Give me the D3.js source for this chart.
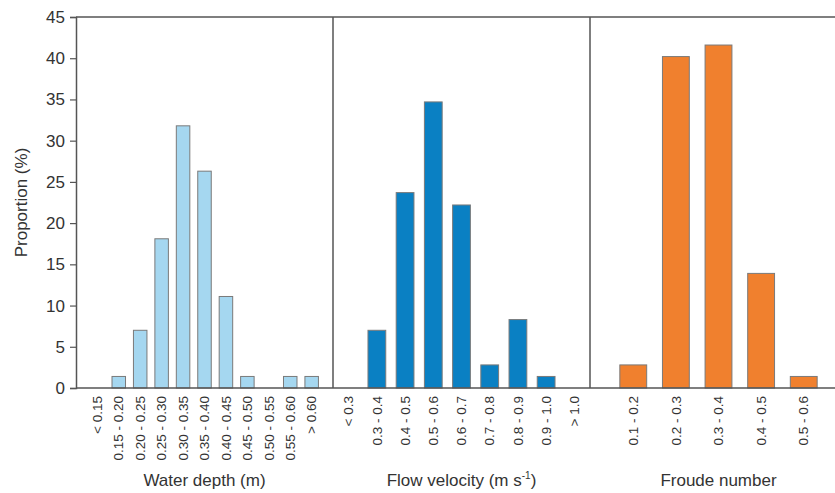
<!DOCTYPE html>
<html>
<head>
<meta charset="utf-8">
<title>Proportion histograms</title>
<script src="https://d3js.org/d3.v7.min.js"></script>
<style>
  body { margin: 0; background: #fff; }
  svg { display: block; font-family: "Liberation Sans", Arial, sans-serif; }
  .bar { stroke: #7a7a7a; stroke-width: 1; }
  .frame { stroke: #555; stroke-width: 1.5; fill: none; }
  .tick text { fill: #333; }
</style>
</head>
<body>
<svg width="835" height="493"></svg>
<script>
var depthCats = ['< 0.15', '0.15 - 0.20', '0.20 - 0.25', '0.25 - 0.30', '0.30 - 0.35', '0.35 - 0.40',
                 '0.40 - 0.45', '0.45 - 0.50', '0.50 - 0.55', '0.55 - 0.60', '> 0.60'];
var depthVals = [0, 1.4, 7.0, 18.1, 31.8, 26.3, 11.1, 1.4, 0, 1.4, 1.4];

var velCats = ['< 0.3', '0.3 - 0.4', '0.4 - 0.5', '0.5 - 0.6', '0.6 - 0.7', '0.7 - 0.8', '0.8 - 0.9', '0.9 - 1.0', '> 1.0'];
var velVals = [0, 7.0, 23.7, 34.7, 22.2, 2.8, 8.3, 1.4, 0];

var froudeCats = ['0.1 - 0.2', '0.2 - 0.3', '0.3 - 0.4', '0.4 - 0.5', '0.5 - 0.6'];
var froudeVals = [2.8, 40.2, 41.6, 13.9, 1.4];

var yTicks = [0, 5, 10, 15, 20, 25, 30, 35, 40, 45];

const svg = d3.select('svg');
const W = 835;
const plotTop = 17, plotBottom = 388;
const left = 76, panelW = 257;

var y = d3.scaleLinear().domain([0, 45]).range([plotBottom, plotTop]);

var panels = [
  { cats: depthCats, vals: depthVals, color: '#a5d7f0', pad: 0.68, title: 'Water depth (m)' },
  { cats: velCats, vals: velVals, color: '#0a80c3', pad: 0.24, title: 'Flow velocity (m s', sup: '-1', tail: ')' },
  { cats: froudeCats, vals: froudeVals, color: '#f0802e', pad: 0.7, title: 'Froude number' }
];

panels.forEach(function (p, i) {
  var x0 = left + i * panelW;
  var x = d3.scaleBand()
    .domain(p.cats)
    .range([x0, x0 + panelW])
    .paddingInner(0.37)
    .paddingOuter(p.pad);

  var g = svg.append('g');

  g.selectAll('rect')
    .data(p.cats.map((c, j) => ({ cat: c, v: p.vals[j] })).filter(d => d.v > 0))
    .enter().append('rect')
    .attr('class', 'bar')
    .attr('fill', p.color)
    .attr('x', d => x(d.cat))
    .attr('y', d => y(d.v))
    .attr('width', x.bandwidth())
    .attr('height', d => y(0) - y(d.v));

  var ax = g.append('g')
    .attr('transform', `translate(0,${plotBottom})`)
    .call(d3.axisBottom(x).tickSize(0).tickPadding(0));
  ax.select('.domain').remove();
  ax.selectAll('text')
    .attr('font-size', 13.5)
    .attr('text-anchor', 'end')
    .attr('transform', 'rotate(-90)')
    .attr('x', -8)
    .attr('y', 0)
    .attr('dy', '0.35em');

  var t = g.append('text')
    .attr('x', x0 + panelW / 2)
    .attr('y', 486)
    .attr('text-anchor', 'middle')
    .attr('font-size', 17)
    .attr('fill', '#333')
    .text(p.title);
  if (p.sup) {
    t.append('tspan').attr('font-size', 10).attr('dy', -7).text(p.sup);
    t.append('tspan').attr('dy', 7).text(p.tail);
  }
});

// frame lines
svg.append('line').attr('class', 'frame')
  .attr('x1', left).attr('x2', W).attr('y1', plotTop).attr('y2', plotTop);
svg.append('line').attr('class', 'frame')
  .attr('x1', left).attr('x2', W).attr('y1', plotBottom).attr('y2', plotBottom);
[1, 2].forEach(function (k) {
  svg.append('line').attr('class', 'frame')
    .attr('x1', left + k * panelW).attr('x2', left + k * panelW)
    .attr('y1', plotTop).attr('y2', plotBottom);
});

var yAxis = svg.append('g')
  .attr('transform', `translate(${left},0)`)
  .call(d3.axisLeft(y).tickValues(yTicks).tickSize(6).tickPadding(5));
yAxis.select('.domain').attr('stroke', '#555').attr('stroke-width', 1.5);
yAxis.selectAll('.tick line').attr('stroke', '#555').attr('stroke-width', 1.2);
yAxis.selectAll('text').attr('font-size', 17);

svg.append('text')
  .attr('transform', `translate(27,${(plotTop + plotBottom) / 2}) rotate(-90)`)
  .attr('text-anchor', 'middle')
  .attr('font-size', 17)
  .attr('fill', '#333')
  .text('Proportion (%)');
</script>
</body>
</html>
